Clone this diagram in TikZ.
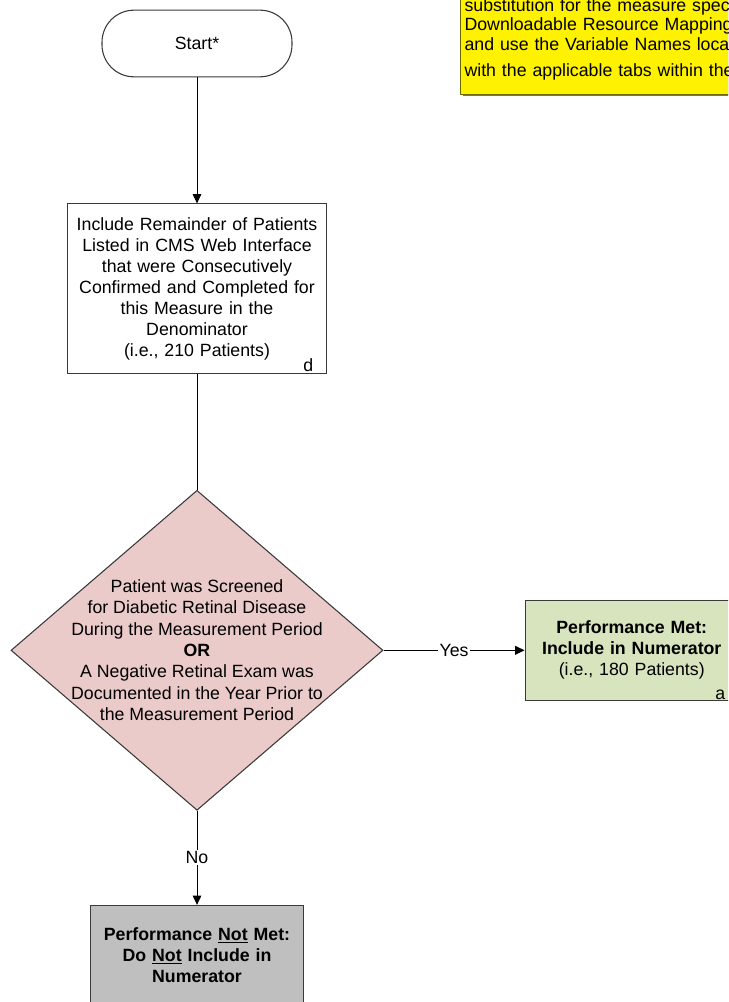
\documentclass[tikz,border=0pt]{standalone}
\usepackage{fontspec}
\setmainfont{Liberation Sans}
\definecolor{dpink}{HTML}{EBCACA}
\definecolor{mgreen}{HTML}{D7E4BD}
\definecolor{ngray}{HTML}{BFBFBF}
\definecolor{edgec}{HTML}{3A3A3A}
\definecolor{olive}{HTML}{6B6B00}
\usetikzlibrary{positioning,arrows.meta,shapes.geometric,shadows}

\begin{document}
\begin{tikzpicture}[x=0.75pt,y=-0.75pt,
      every node/.style={font=\fontsize{13.3}{15.75}\selectfont,align=center},
      term/.style={draw=edgec,line width=0.8pt,rounded corners=24pt,minimum width=142.5pt,minimum height=50pt},
      proc/.style={draw=edgec,line width=0.8pt,fill=white,inner sep=3pt,text width=188pt,minimum height=127pt},
      dec/.style={diamond,draw=edgec,line width=0.8pt,fill=dpink,inner sep=0pt,minimum width=279pt,minimum height=240pt},
      outc/.style={draw=edgec,line width=0.8pt,inner sep=2pt,text width=156pt,minimum height=75pt},
      tag/.style={anchor=south east,inner sep=0pt,xshift=-10pt,yshift=1pt},
      arr/.style={-{Triangle[length=7pt,width=6.5pt]},line width=0.75pt},
      lbl/.style={fill=white,inner sep=1pt}]
    \useasboundingbox (0,0) rectangle (728,1002);
    \clip (0,0) rectangle (728,1002);
    % note box, cut by the page edge
    \node[draw=olive,line width=0.8pt,fill=yellow,anchor=south west,align=left,inner xsep=3pt,inner ysep=11pt,
          text width=330pt,font=\fontsize{13.3}{14.5}\selectfont,
          drop shadow={shadow xshift=1.5pt,shadow yshift=-1.5pt,fill=black!55,opacity=1}] (note) at (460,95)
      {substitution for the measure specifications\\Downloadable Resource Mapping document\\and use the Variable Names located\\[5pt]with the applicable tabs within the};
    \node[term] (start) at (197,43.5) {Start*};
    \node[proc,below=94.5pt of start,label={[tag]south east:d}] (incl)
      {Include Remainder of Patients\\Listed in CMS Web Interface\\that were Consecutively\\Confirmed and Completed for\\this Measure in the\\Denominator\\(i.e., 210 Patients)};
    \node[dec,below=87pt of incl,label={[font=\fontsize{13.3}{16}\selectfont,align=center]center:Patient was Screened\\for Diabetic Retinal Disease\\During the Measurement Period\\\textbf{OR}\\A Negative Retinal Exam was\\Documented in the Year Prior to\\the Measurement Period}] (scr) {};
    \node[outc,fill=mgreen,right=105.75pt of scr,label={[tag]south east:a}] (met)
      {\textbf{Performance Met:}\\\textbf{Include in Numerator}\\(i.e., 180 Patients)};
    \node[outc,fill=ngray,below=70.5pt of scr] (notmet)
      {\textbf{Performance \underline{Not} Met:}\\\textbf{Do \underline{Not} Include in}\\\textbf{Numerator}};
    \draw[arr] (start) -- (incl);
    \draw[line width=0.75pt] (incl) -- (scr);
    \draw[arr] (scr) -- node[lbl] {Yes} (met);
    \draw[arr] (scr) -- node[lbl] {No} (notmet);
  \end{tikzpicture}
\end{document}
